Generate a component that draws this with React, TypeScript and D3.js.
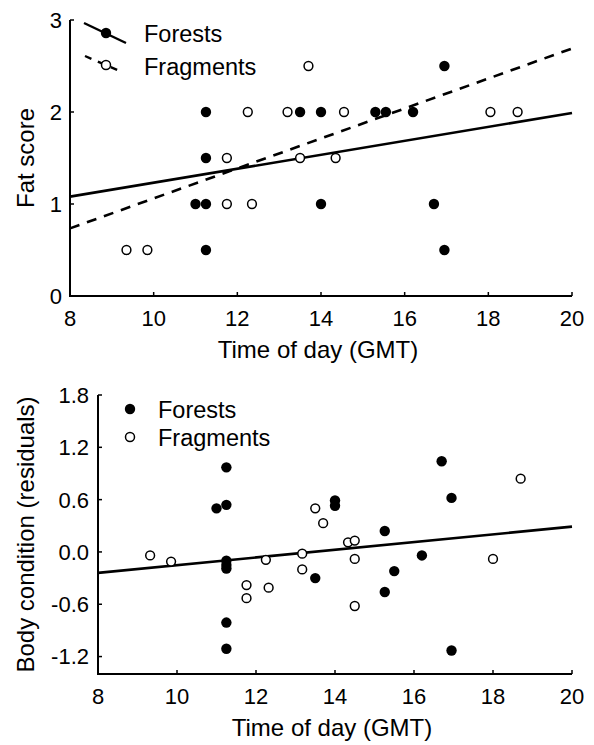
import React from "react";
import * as d3 from "d3";

// ---- Data: top panel (fat score) ----
const fatForestX = [11.25, 11.25, 11.0, 11.25, 11.25, 13.5, 14.0, 14.0, 15.3, 15.55, 16.2, 16.7, 16.95, 16.95];
const fatForestY = [2, 1.5, 1, 1, 0.5, 2, 2, 1, 2, 2, 2, 1, 2.5, 0.5];
const fatFragX = [9.35, 9.85, 11.75, 11.75, 12.35, 12.25, 13.2, 13.5, 13.7, 14.55, 14.35, 18.05, 18.7];
const fatFragY = [0.5, 0.5, 1.5, 1, 1, 2, 2, 1.5, 2.5, 2, 1.5, 2, 2];

// ---- Data: bottom panel (body condition residuals) ----
const bcForestX = [11.25, 11.25, 11.0, 11.25, 11.25, 11.25, 11.25, 11.25, 13.5, 14.0, 14.0, 15.26, 15.26, 15.5, 16.2, 16.7, 16.95, 16.95];
const bcForestY = [0.97, 0.54, 0.5, -0.1, -0.15, -0.19, -0.81, -1.11, -0.3, 0.59, 0.53, 0.24, -0.46, -0.22, -0.04, 1.04, 0.62, -1.13];
const bcFragX = [9.32, 9.85, 11.76, 11.76, 12.25, 12.32, 13.17, 13.17, 13.5, 13.7, 14.33, 14.5, 14.5, 14.5, 18.0, 18.7];
const bcFragY = [-0.04, -0.11, -0.38, -0.53, -0.09, -0.41, -0.02, -0.2, 0.5, 0.33, 0.11, 0.13, -0.08, -0.62, -0.08, 0.84];

// ---- Fitted lines (endpoints) ----
const fitX = [8, 20];
const fatForestFit = [1.08, 1.99];
const fatFragFit = [0.735, 2.69];
const bcFit = [-0.24, 0.29];

// ---- Axes ----
const xTicks = [8, 10, 12, 14, 16, 18, 20];
const fatTicks = [0, 1, 2, 3];
const bcTicks = [-1.2, -0.6, 0.0, 0.6, 1.2, 1.8];
const xTitle = "Time of day (GMT)";
const fatTitle = "Fat score";
const bcTitle = "Body condition (residuals)";
const seriesNames = ["Forests", "Fragments"];

const FONT = "'Liberation Sans', Arial, Helvetica, sans-serif";

function Panel(props: {
  left: number; right: number; top: number; bottom: number;
  yDomain: [number, number]; yTicks: number[]; yFmt: (v: number) => string;
  yTitle: string; yTitleX: number; yLabelX: number;
  forestX: number[]; forestY: number[]; fragX: number[]; fragY: number[];
  fits: { y: number[]; dash?: string }[];
}) {
  const x = d3.scaleLinear().domain([8, 20]).range([props.left, props.right]);
  const y = d3.scaleLinear().domain(props.yDomain).range([props.bottom, props.top]);
  const line = d3.line<[number, number]>().x((d) => x(d[0])).y((d) => y(d[1]));
  const tickLen = 4;
  return (
    <g>
      {props.fits.map((f, i) => (
        <path key={"f" + i}
          d={line(fitX.map((v, j) => [v, f.y[j]] as [number, number])) || ""}
          fill="none" stroke="#000" strokeWidth={2.6} strokeDasharray={f.dash} />
      ))}
      {props.fragX.map((v, i) => (
        <circle key={"o" + i} cx={x(v)} cy={y(props.fragY[i])} r={4.4}
          fill="#fff" stroke="#000" strokeWidth={1.5} />
      ))}
      {props.forestX.map((v, i) => (
        <circle key={"c" + i} cx={x(v)} cy={y(props.forestY[i])} r={5.2} fill="#000" />
      ))}
      <path d={`M${props.left},${props.top}V${props.bottom}H${props.right}`} fill="none" stroke="#000" strokeWidth={2} />
      {xTicks.map((t) => (
        <g key={"x" + t}>
          <line x1={x(t)} x2={x(t)} y1={props.bottom} y2={props.bottom - tickLen} stroke="#000" strokeWidth={1.5} />
          <text x={x(t)} y={props.bottom + 30} textAnchor="middle" fontSize={22} fontFamily={FONT}>{t}</text>
        </g>
      ))}
      {props.yTicks.map((t) => (
        <g key={"y" + t}>
          <line x1={props.left} x2={props.left + tickLen} y1={y(t)} y2={y(t)} stroke="#000" strokeWidth={1.5} />
          <text x={props.yLabelX} y={y(t)} dy="0.36em" textAnchor="end" fontSize={22} fontFamily={FONT}>{props.yFmt(t)}</text>
        </g>
      ))}
      <text x={(props.left + props.right) / 2 - 3} y={props.bottom + 62} textAnchor="middle" fontSize={24} fontFamily={FONT}>{xTitle}</text>
      <text transform={`translate(${props.yTitleX},${(props.top + props.bottom) / 2}) rotate(-90)`} textAnchor="middle" fontSize={24} fontFamily={FONT}>{props.yTitle}</text>
    </g>
  );
}

export default function App() {
  return (
    <svg width={594} height={745} style={{ position: "absolute", left: 0, top: 0, background: "#fff" }}>
      <rect width={594} height={745} fill="#fff" />
      <Panel left={70} right={572} top={20} bottom={296} yDomain={[0, 3]} yTicks={fatTicks}
        yFmt={(v) => String(v)} yTitle={fatTitle} yTitleX={34} yLabelX={62}
        forestX={fatForestX} forestY={fatForestY} fragX={fatFragX} fragY={fatFragY}
        fits={[{ y: fatForestFit }, { y: fatFragFit, dash: "10,8" }]} />
      <g>
        <line x1={84} y1={23} x2={126} y2={43} stroke="#000" strokeWidth={2.4} />
        <circle cx={106} cy={33} r={5.2} fill="#000" />
        <text x={144} y={42} fontSize={23.5} fontFamily={FONT}>{seriesNames[0]}</text>
        <line x1={85} y1={56} x2={122} y2={72} stroke="#000" strokeWidth={2.4} strokeDasharray="7,7" />
        <circle cx={106} cy={65} r={4.5} fill="#fff" stroke="#000" strokeWidth={1.5} />
        <text x={144} y={75} fontSize={23.5} fontFamily={FONT}>{seriesNames[1]}</text>
      </g>
      <Panel left={98} right={572} top={395} bottom={674} yDomain={[-1.4, 1.8]} yTicks={bcTicks}
        yFmt={(v) => d3.format(".1f")(v).replace("−", "-")} yTitle={bcTitle} yTitleX={34} yLabelX={89}
        forestX={bcForestX} forestY={bcForestY} fragX={bcFragX} fragY={bcFragY}
        fits={[{ y: bcFit }]} />
      <g>
        <circle cx={130} cy={409} r={5.2} fill="#000" />
        <text x={158} y={418} fontSize={23.5} fontFamily={FONT}>{seriesNames[0]}</text>
        <circle cx={130} cy={437} r={4.5} fill="#fff" stroke="#000" strokeWidth={1.5} />
        <text x={158} y={446} fontSize={23.5} fontFamily={FONT}>{seriesNames[1]}</text>
      </g>
    </svg>
  );
}
